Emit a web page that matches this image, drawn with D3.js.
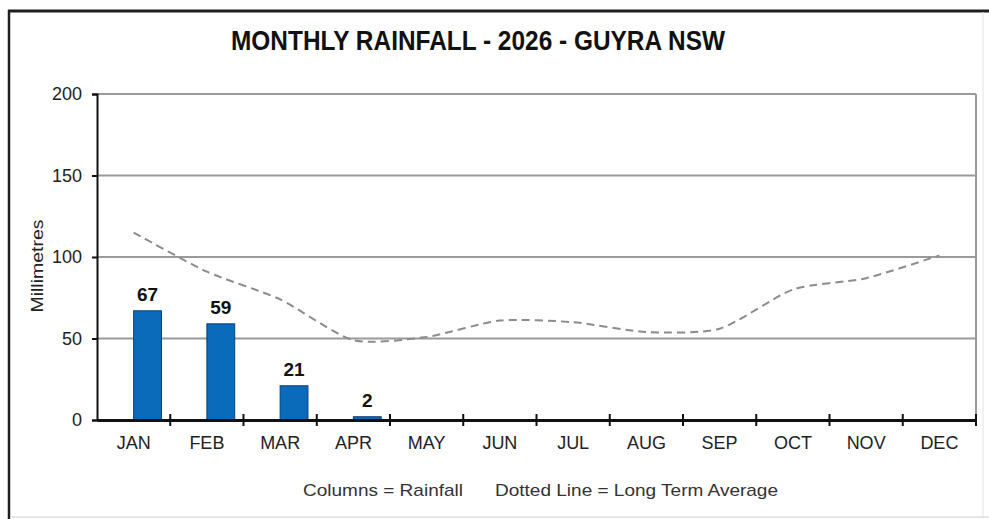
<html>
<head>
  <title>Monthly Rainfall - 2026 - Guyra NSW</title>
  <style type="text/css">
    body{margin:0;background:#fff;}
    svg{display:block;font-family:"Liberation Sans",Arial,sans-serif;}
  </style>
</head>
<body>
<div id='graph-container'></div>
<script src="https://d3js.org/d3.v7.min.js"></script>
<script type="text/javascript">

var months = ['JAN','FEB','MAR','APR','MAY','JUN','JUL','AUG','SEP','OCT','NOV','DEC']
var rainfall = [67, 59, 21, 2]
var longTermAverage = [115, 91, 74, 49, 51, 61, 60, 54, 56, 80, 87, 101]
var yTicks = [0, 50, 100, 150, 200]

var width = 989
var height = 519
var plot = {left: 97, right: 976, top: 94, bottom: 420}

var xScale = d3.scaleBand().domain(months).range([plot.left, plot.right]).padding(0)
var yScale = d3.scaleLinear().domain([0, 200]).range([plot.bottom, plot.top])
var barWidth = xScale.bandwidth()*0.38

var svg = d3.select('#graph-container').append('svg')
  .attr('width', width)
  .attr('height', height)

// outer frame
svg.append('line').attr('x1', 8).attr('x2', width).attr('y1', 11).attr('y2', 11)
  .attr('stroke', '#1e1e1e').attr('stroke-width', 3)
svg.append('line').attr('x1', 9).attr('x2', 9).attr('y1', 10).attr('y2', height)
  .attr('stroke', '#1e1e1e').attr('stroke-width', 2.5)
svg.append('line').attr('x1', 983).attr('x2', 983).attr('y1', 12).attr('y2', height)
  .attr('stroke', '#e4e4e4').attr('stroke-width', 1)
svg.append('line').attr('x1', 10).attr('x2', width).attr('y1', 517).attr('y2', 517)
  .attr('stroke', '#dedede').attr('stroke-width', 1.5)

// title
svg.append('text')
  .attr('x', 478).attr('y', 50)
  .attr('text-anchor', 'middle')
  .attr('font-size', 27).attr('font-weight', 'bold')
  .attr('textLength', 494).attr('lengthAdjust', 'spacingAndGlyphs')
  .attr('fill', '#111')
  .text('MONTHLY RAINFALL - 2026 - GUYRA NSW')

// gridlines
svg.append('g').selectAll('line')
  .data(yTicks.filter(d => d > 0))
  .enter().append('line')
  .attr('x1', plot.left).attr('x2', plot.right)
  .attr('y1', d => yScale(d)).attr('y2', d => yScale(d))
  .attr('stroke', '#9a9a9a').attr('stroke-width', 2)

// right border of plot area
svg.append('line')
  .attr('x1', plot.right).attr('x2', plot.right)
  .attr('y1', yScale(200)).attr('y2', yScale(0))
  .attr('stroke', '#9a9a9a').attr('stroke-width', 2)

// bars
svg.append('g').selectAll('rect')
  .data(rainfall)
  .enter().append('rect')
  .attr('x', (d, i) => xScale(months[i]) + xScale.bandwidth()/2)
  .attr('y', d => yScale(d))
  .attr('width', barWidth)
  .attr('height', d => yScale(0) - yScale(d))
  .attr('fill', '#0b6bbb')
  .attr('stroke', '#0a3f78').attr('stroke-width', 1)

// bar labels
svg.append('g').selectAll('text')
  .data(rainfall)
  .enter().append('text')
  .attr('x', (d, i) => xScale(months[i]) + xScale.bandwidth()/2 + barWidth/2)
  .attr('y', d => yScale(d) - 10)
  .attr('text-anchor', 'middle')
  .attr('font-size', 19).attr('font-weight', 'bold')
  .attr('fill', '#111')
  .text(d => d)

// long term average line
var line = d3.line()
  .x((d, i) => xScale(months[i]) + xScale.bandwidth()/2)
  .y(d => yScale(d))
  .curve(d3.curveCardinal.tension(0.3))
svg.append('path')
  .datum(longTermAverage)
  .attr('d', line)
  .attr('fill', 'none')
  .attr('stroke', '#8c8c8c')
  .attr('stroke-width', 2)
  .attr('stroke-dasharray', '8,5')

// y axis
var yAxis = svg.append('g')
  .attr('transform', `translate(${plot.left},0)`)
  .call(d3.axisLeft(yScale).tickValues(yTicks).tickSize(5).tickPadding(10))
yAxis.select('.domain').attr('stroke', '#111').attr('stroke-width', 2)
yAxis.selectAll('.tick line').attr('stroke', '#111').attr('stroke-width', 2)
yAxis.selectAll('.tick text')
  .attr('font-size', 18).attr('fill', '#222')
  .attr('font-family', '"Liberation Sans",Arial,sans-serif')

svg.append('text')
  .attr('transform', 'rotate(-90)')
  .attr('x', -266).attr('y', 43)
  .attr('text-anchor', 'middle')
  .attr('font-size', 17).attr('fill', '#222')
  .attr('textLength', 93).attr('lengthAdjust', 'spacingAndGlyphs')
  .text('Millimetres')

// x axis
var xAxis = svg.append('g')
  .attr('transform', `translate(0,${plot.bottom})`)
  .call(d3.axisBottom(xScale).tickSize(0).tickPadding(16))
xAxis.select('.domain').attr('stroke', '#111').attr('stroke-width', 3)
xAxis.selectAll('.tick text')
  .attr('font-size', 18).attr('fill', '#222')
  .attr('font-family', '"Liberation Sans",Arial,sans-serif')

svg.append('g').selectAll('line')
  .data(months)
  .enter().append('line')
  .attr('x1', d => xScale(d) + xScale.bandwidth())
  .attr('x2', d => xScale(d) + xScale.bandwidth())
  .attr('y1', plot.bottom - 6).attr('y2', plot.bottom + 6)
  .attr('stroke', '#111').attr('stroke-width', 2)

// legend note
svg.append('text')
  .attr('x', 303).attr('y', 496)
  .attr('font-size', 17).attr('fill', '#333')
  .attr('textLength', 160).attr('lengthAdjust', 'spacingAndGlyphs')
  .text('Columns = Rainfall')
svg.append('text')
  .attr('x', 495).attr('y', 496)
  .attr('font-size', 17).attr('fill', '#333')
  .attr('textLength', 283).attr('lengthAdjust', 'spacingAndGlyphs')
  .text('Dotted Line = Long Term Average')

</script>
</body>
</html>
